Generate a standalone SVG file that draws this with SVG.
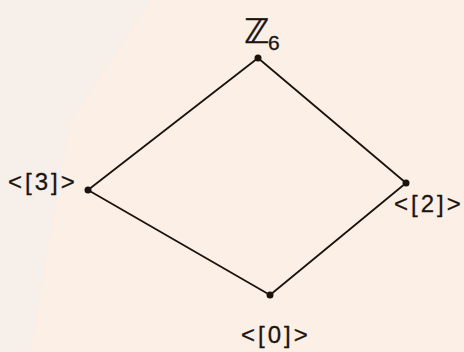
<svg xmlns="http://www.w3.org/2000/svg" width="464" height="352" viewBox="0 0 464 352">
<style>
.edge{stroke:#1a1410;stroke-width:1.8;fill:none;stroke-linecap:round}
.dot{fill:#1a1410}
.lbl{font-family:"Liberation Sans",Arial,sans-serif;font-size:24px;letter-spacing:3px;fill:#1a1410;stroke:#1a1410;stroke-width:0.3}
</style>
<rect width="464" height="352" fill="#fcefe5"/>
<path d="M0 0 H150 L70 120 L30 352 H0 Z" fill="#f3efec" opacity="0.7"/>
<g id="connectors">
<line class="edge" x1="258" y1="58" x2="88" y2="190"/>
<line class="edge" x1="258" y1="58" x2="406" y2="183"/>
<line class="edge" x1="88" y1="190" x2="270" y2="295"/>
<line class="edge" x1="406" y1="183" x2="270" y2="295"/>
</g>
<g id="z6">
<circle class="dot" cx="258" cy="58" r="3.5"/>
<text x="244" y="43" font-family="DejaVu Sans,sans-serif" font-size="34" fill="#1a1410" stroke="#1a1410" stroke-width="0.4">ℤ</text>
<text x="268" y="50" font-family="Liberation Sans,sans-serif" font-size="21" fill="#1a1410" stroke="#1a1410" stroke-width="0.3">6</text>
</g>
<g id="n3">
<circle class="dot" cx="88" cy="190" r="3.5"/>
<text class="lbl" x="8" y="190">&lt;[3]&gt;</text>
</g>
<g id="n2">
<circle class="dot" cx="406" cy="183" r="3.5"/>
<text class="lbl" x="394" y="212" letter-spacing="1.5">&lt;[2]&gt;</text>
</g>
<g id="n0">
<circle class="dot" cx="270" cy="295" r="3.5"/>
<text class="lbl" x="241" y="343">&lt;[0]&gt;</text>
</g>
</svg>
